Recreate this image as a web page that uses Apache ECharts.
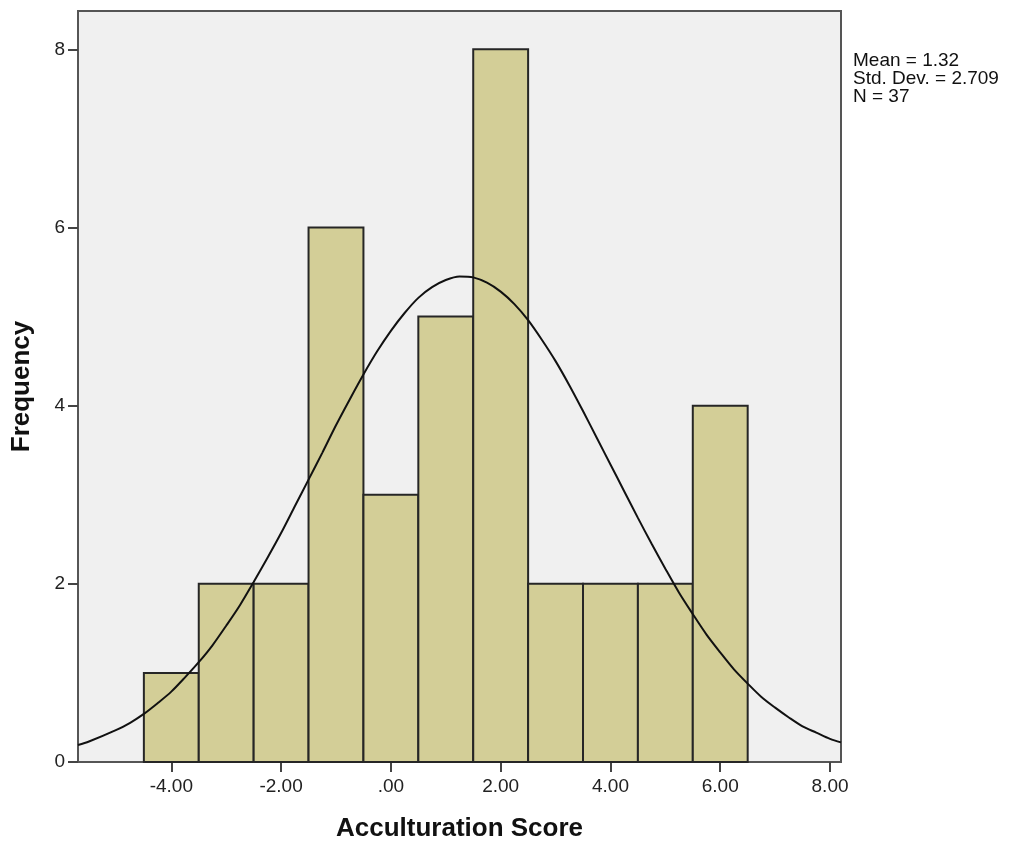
<!DOCTYPE html>
<html>
<head>
    <meta charset="utf-8">
    <title>Acculturation Score histogram</title>
    <script src="https://cdn.jsdelivr.net/npm/echarts@6/dist/echarts.min.js"></script>
    <style>
        html, body { margin: 0; padding: 0; background: #fff; }
        #main { width: 1012px; height: 846px; }
    </style>
</head>
<body>
<div id="main"></div>
<script>
    // bin centres (width 1) and their counts
    var binCenters = [-4, -3, -2, -1, 0, 1, 2, 3, 4, 5, 6];
    var binCounts = [1, 2, 2, 6, 3, 5, 8, 2, 2, 2, 4];

    // normal curve
    var curveX = [-5.7, -5.5, -5, -4.75, -4.5, -4.25, -4, -3.75, -3.5, -3.25, -3, -2.75, -2.5, -2.25, -2, -1.75,
        -1.5, -1.25, -1, -0.75, -0.5, -0.25, 0, 0.25, 0.5, 0.75, 1, 1.25, 1.5, 1.75, 2, 2.25, 2.5, 2.75,
        3, 3.25, 3.5, 3.75, 4, 4.25, 4.5, 4.75, 5, 5.25, 5.5, 5.75, 6, 6.25, 6.5, 6.75, 7, 7.25, 7.5, 7.75, 8, 8.2];
    var curveY = [0.19, 0.23, 0.36, 0.44, 0.54, 0.66, 0.79, 0.95, 1.12, 1.31, 1.53, 1.76, 2.02, 2.29, 2.57, 2.87,
        3.17, 3.47, 3.78, 4.07, 4.35, 4.61, 4.84, 5.04, 5.21, 5.33, 5.41, 5.45, 5.44, 5.38, 5.28, 5.14, 4.96, 4.74,
        4.50, 4.23, 3.94, 3.64, 3.34, 3.04, 2.74, 2.45, 2.17, 1.90, 1.66, 1.43, 1.23, 1.04, 0.88, 0.73, 0.61, 0.50, 0.40, 0.33, 0.26, 0.22];

    var xTicks = [-4, -2, 0, 2, 4, 6, 8];
    var yTicks = [0, 2, 4, 6, 8];
    var statLines = ['Mean = 1.32', 'Std. Dev. = 2.709', 'N = 37'];

    var barData = [];
    for (var i = 0; i < binCenters.length; i++) {
        barData.push([binCenters[i], binCounts[i]]);
    }
    var lineData = [];
    for (var j = 0; j < curveX.length; j++) {
        lineData.push([curveX[j], curveY[j]]);
    }

    function fmtX(v) {
        var s = Number(v).toFixed(2);
        if (s === '0.00') return '.00';
        return s;
    }

    var myChart = echarts.init(document.getElementById('main'));
    var option = {
        animation: false,
        textStyle: { fontFamily: 'Liberation Sans, Arial, sans-serif' },
        grid: {
            left: 78, right: 171, top: 11, bottom: 84,
            outerBoundsMode: 'none',
            show: true,
            backgroundColor: '#f0f0f0',
            borderColor: '#555',
            borderWidth: 2
        },
        xAxis: {
            type: 'value',
            min: -5.7,
            max: 8.2,
            name: 'Acculturation Score',
            nameLocation: 'middle',
            nameGap: 54,
            nameTextStyle: { fontSize: 26, fontWeight: 'bold', color: '#111' },
            splitLine: { show: false },
            axisLine: { show: false, onZero: false },
            axisTick: {
                show: true, length: 10, customValues: xTicks,
                lineStyle: { color: '#444', width: 2 }
            },
            axisLabel: {
                customValues: xTicks,
                formatter: fmtX,
                fontSize: 19, color: '#222', margin: 15
            }
        },
        yAxis: {
            type: 'value',
            min: 0,
            max: 8.43,
            name: 'Frequency',
            nameLocation: 'middle',
            nameGap: 43,
            nameTextStyle: { fontSize: 26, fontWeight: 'bold', color: '#111' },
            splitLine: { show: false },
            axisLine: { show: false, onZero: false },
            axisTick: {
                show: true, length: 10, customValues: yTicks,
                lineStyle: { color: '#444', width: 2 }
            },
            axisLabel: {
                customValues: yTicks,
                fontSize: 19, color: '#222', margin: 13
            }
        },
        graphic: [{
            type: 'text',
            left: 853,
            top: 51,
            style: {
                text: statLines.join('\n'),
                fontSize: 19,
                lineHeight: 18,
                fill: '#111',
                fontFamily: 'Liberation Sans, Arial, sans-serif'
            }
        }],
        series: [
            {
                type: 'custom',
                data: barData,
                renderItem: function (params, api) {
                    var c = api.value(0);
                    var v = api.value(1);
                    var p0 = api.coord([c - 0.5, v]);
                    var p1 = api.coord([c + 0.5, 0]);
                    return {
                        type: 'rect',
                        shape: { x: p0[0], y: p0[1], width: p1[0] - p0[0], height: p1[1] - p0[1] },
                        style: { fill: '#d3ce97', stroke: '#262626', lineWidth: 2 }
                    };
                },
                z: 2
            },
            {
                type: 'line',
                data: lineData,
                smooth: 0.3,
                showSymbol: false,
                lineStyle: { color: '#111', width: 2 },
                z: 3
            }
        ]
    };
    myChart.setOption(option);
</script>
</body>
</html>
